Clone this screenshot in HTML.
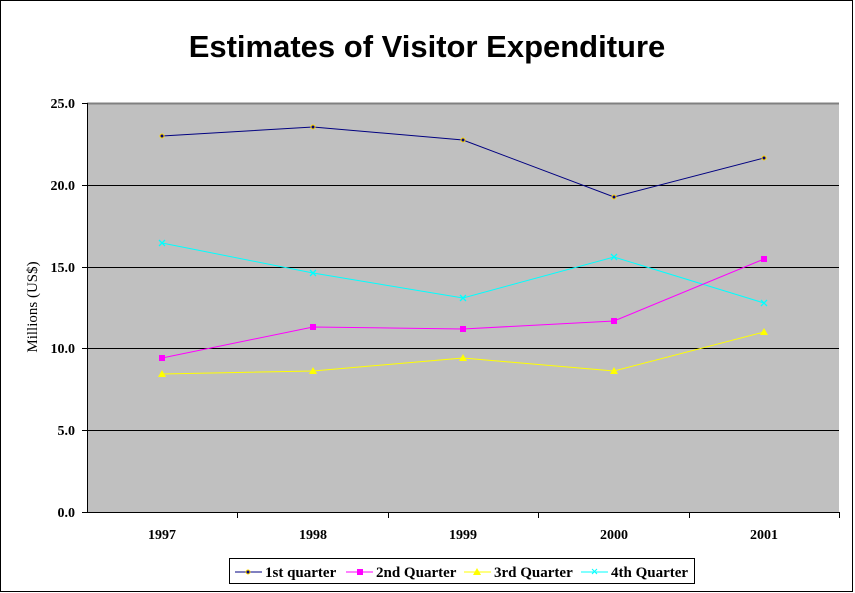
<!DOCTYPE html>
<html><head><style>body{margin:0;background:#fff}svg{display:block}</style></head><body>
<svg width="855" height="593" xmlns="http://www.w3.org/2000/svg" font-family="Liberation Serif, serif">
<rect x="0.5" y="0.5" width="852" height="591" fill="#fff" stroke="#000" stroke-width="1"/>
<text x="427" y="57" text-anchor="middle" font-family="Liberation Sans, sans-serif" font-size="31" font-weight="bold">Estimates of Visitor Expenditure</text>
<rect x="87" y="103" width="752" height="409" fill="#c0c0c0"/>
<line x1="87" y1="103.5" x2="839" y2="103.5" stroke="#808080" stroke-width="2"/>
<g stroke="#000" stroke-width="1">
<line x1="87" y1="185.5" x2="839" y2="185.5"/>
<line x1="87" y1="267.5" x2="839" y2="267.5"/>
<line x1="87" y1="348.5" x2="839" y2="348.5"/>
<line x1="87" y1="430.5" x2="839" y2="430.5"/>
<line x1="87.5" y1="103" x2="87.5" y2="512"/>
<line x1="87" y1="512.5" x2="839" y2="512.5"/>
<line x1="82" y1="103.5" x2="87" y2="103.5"/>
<line x1="82" y1="185.5" x2="87" y2="185.5"/>
<line x1="82" y1="267.5" x2="87" y2="267.5"/>
<line x1="82" y1="348.5" x2="87" y2="348.5"/>
<line x1="82" y1="430.5" x2="87" y2="430.5"/>
<line x1="82" y1="512.5" x2="87" y2="512.5"/>
<line x1="237.5" y1="512" x2="237.5" y2="518"/>
<line x1="388.5" y1="512" x2="388.5" y2="518"/>
<line x1="538.5" y1="512" x2="538.5" y2="518"/>
<line x1="689.5" y1="512" x2="689.5" y2="518"/>
<line x1="839.5" y1="512" x2="839.5" y2="518"/>
</g>
<g font-size="14" font-weight="bold" text-anchor="end">
<text x="75" y="108">25.0</text><text x="75" y="190">20.0</text><text x="75" y="272">15.0</text>
<text x="75" y="353">10.0</text><text x="75" y="435">5.0</text><text x="75" y="517">0.0</text>
</g>
<g font-size="14" font-weight="bold" text-anchor="middle">
<text x="162" y="539">1997</text><text x="313" y="539">1998</text><text x="463" y="539">1999</text><text x="614" y="539">2000</text><text x="764" y="539">2001</text>
</g>
<text transform="translate(37,307) rotate(-90)" text-anchor="middle" font-size="15">Millions (US$)</text>
<polyline fill="none" stroke="#000080" points="162,136 313,127 463,140 614,197 764,158"/>
<polyline fill="none" stroke="#00ffff" points="162,243 313,273 463,298 614,257 764,303"/>
<polyline fill="none" stroke="#ff00ff" points="162,358 313,327 463,329 614,321 764,259"/>
<polyline fill="none" stroke="#ffff00" points="162,374 313,371 463,358 614,371 764,332"/>
<g fill="#000080" stroke="#ffd700" stroke-width="1">
<circle cx="162" cy="136" r="2"/><circle cx="313" cy="127" r="2"/><circle cx="463" cy="140" r="2"/><circle cx="614" cy="197" r="2"/><circle cx="764" cy="158" r="2"/>
</g>
<g fill="#ff00ff">
<rect x="159" y="355" width="6" height="6"/><rect x="310" y="324" width="6" height="6"/><rect x="460" y="326" width="6" height="6"/><rect x="611" y="318" width="6" height="6"/><rect x="761" y="256" width="6" height="6"/>
</g>
<g fill="#ffff00">
<polygon points="162,370 166,377 158,377"/><polygon points="313,367 317,374 309,374"/><polygon points="463,354 467,361 459,361"/><polygon points="614,367 618,374 610,374"/><polygon points="764,328 768,335 760,335"/>
</g>
<g stroke="#00ffff" stroke-width="1.3">
<path d="M159,240l6,6M165,240l-6,6"/><path d="M310,270l6,6M316,270l-6,6"/><path d="M460,295l6,6M466,295l-6,6"/><path d="M611,254l6,6M617,254l-6,6"/><path d="M761,300l6,6M767,300l-6,6"/>
</g>
<rect x="229.5" y="558.5" width="465" height="25" fill="#fff" stroke="#000"/>
<g font-size="15" font-weight="bold">
<line x1="235" y1="572" x2="262" y2="572" stroke="#000080"/><circle cx="248" cy="572" r="2" fill="#000080" stroke="#ffd700"/>
<text x="265" y="577">1st quarter</text>
<line x1="346" y1="572" x2="373" y2="572" stroke="#ff00ff"/><rect x="357" y="569" width="6" height="6" fill="#ff00ff"/>
<text x="376" y="577">2nd Quarter</text>
<line x1="464" y1="572" x2="491" y2="572" stroke="#ffff00"/><polygon points="477,568 481,575 473,575" fill="#ffff00"/>
<text x="494" y="577">3rd Quarter</text>
<line x1="581" y1="572" x2="608" y2="572" stroke="#00ffff"/><path d="M592,569l5,5M597,569l-5,5" stroke="#00ffff"/>
<text x="611" y="577">4th Quarter</text>
</g>
</svg>
</body></html>
